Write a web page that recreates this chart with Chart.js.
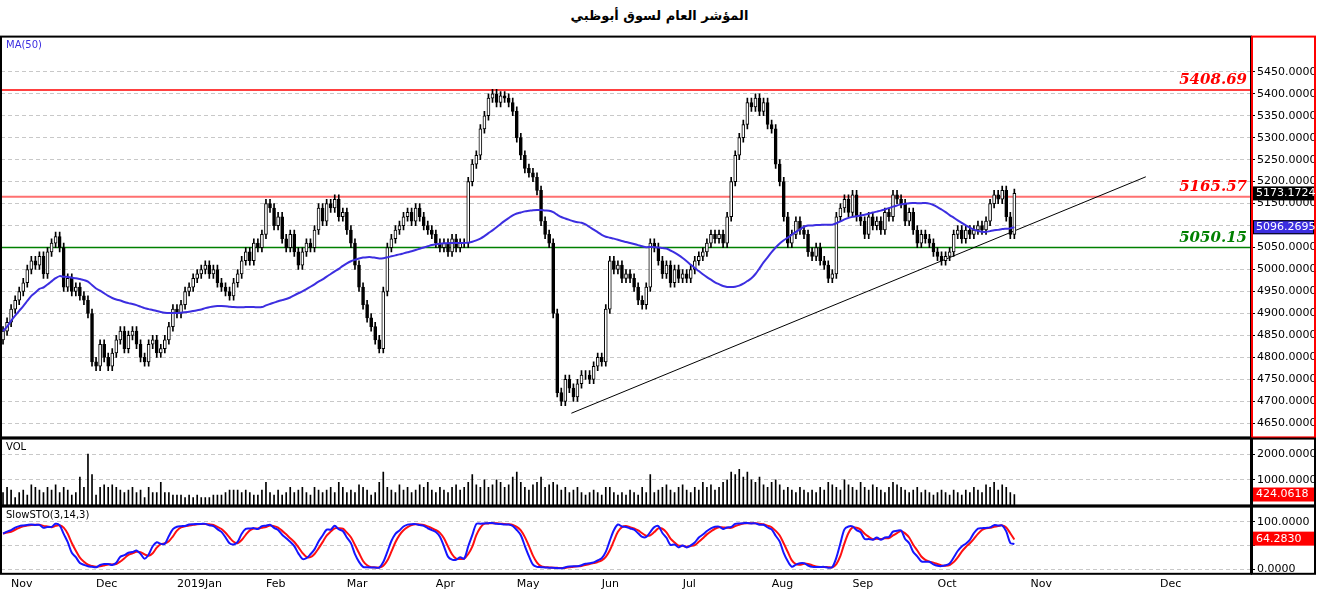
<!DOCTYPE html>
<html>
<head>
<meta charset="utf-8">
<script src="https://cdn.jsdelivr.net/npm/chart.js@4.4.1/dist/chart.umd.min.js"></script>
<style>
  body { margin: 0; background: #fff; width: 1319px; height: 591px; overflow: hidden; font-family: "DejaVu Sans", sans-serif; }
  .title { position: absolute; top: 8px; left: 0; width: 1319px; text-align: center; font: bold 13px "DejaVu Sans", sans-serif; }
  .panel { position: absolute; left: 0; width: 1319px; }
</style>
</head>
<body>
<div class="title" dir="rtl">المؤشر العام لسوق أبوظبي</div>
<div class="panel" style="top:28px;height:418px"><canvas id="main"></canvas></div>
<div class="panel" style="top:430px;height:84px"><canvas id="vol"></canvas></div>
<div class="panel" style="top:498px;height:93px"><canvas id="sto"></canvas></div>
<script>
// daily closes, Oct 2018 - Oct 2019
const closes = [
  4860, 4880, 4910, 4930, 4950,
  4970, 5000, 5020, 5010, 5030, 4990, 5040, 5060, 5075, 5050,
  4960, 4980, 4950, 4960, 4940,
  4930, 4900, 4790,
  4780, 4830, 4800, 4780, 4810, 4840, 4860, 4820, 4850, 4860, 4830, 4800, 4790, 4830, 4840,
  4810, 4820, 4840, 4870, 4910,
  4900, 4920, 4950, 4960, 4980, 4990, 5000, 5010, 4990, 5000,
  4970, 4960, 4950, 4940, 4970, 4990,
  5020, 5040, 5020, 5060, 5050, 5080, 5150,
  5140, 5100, 5120, 5070, 5050, 5080, 5040, 5010, 5040,
  5060, 5050, 5090, 5140, 5110, 5150, 5140, 5160, 5120,
  5130, 5090, 5060, 5010, 4960,
  4920, 4890, 4870, 4840, 4820,
  4950, 5050, 5070,
  5090, 5100, 5120, 5130, 5110, 5140, 5120, 5100, 5090, 5080,
  5060, 5050, 5060, 5040, 5070, 5050, 5060, 5060,
  5200, 5240, 5260, 5320, 5350, 5390, 5400,
  5380, 5395, 5390, 5380, 5360,
  5300, 5260, 5230, 5220, 5210,
  5180, 5110, 5080, 5060,
  4900, 4720, 4700,
  4750, 4730, 4710, 4740, 4760, 4760, 4750, 4780, 4800, 4790,
  4910, 5020, 5000,
  5010, 4980, 4990, 4980, 4960, 4930, 4920, 4960, 5060,
  5050, 5020, 4990, 5010, 4970, 5000, 4980, 4990, 4980, 5000,
  5020, 5030, 5040, 5060, 5080, 5070, 5080, 5060,
  5120, 5200,
  5260, 5300, 5330, 5380, 5370,
  5390, 5360, 5380, 5330, 5320,
  5240, 5200, 5120,
  5060, 5080, 5110, 5090, 5080, 5040,
  5030, 5050, 5020, 5010, 4980,
  4990, 5120,
  5140, 5160, 5130, 5170, 5120, 5110,
  5080, 5120, 5100, 5110, 5090, 5130, 5120,
  5170, 5160, 5150,
  5110, 5130, 5090, 5060, 5080,
  5070, 5060, 5040, 5030, 5020, 5030, 5040,
  5080, 5090, 5070, 5090, 5080, 5090, 5100,
  5090, 5110, 5150, 5170, 5160,
  5180, 5120, 5080, 5173.17
];
const volumes = [
  500,700,600,300,500,600,400,800,700,600,
  500,700,600,800,500,700,600,400,500,1100,
  700,2000,1200,400,700,800,700,800,700,600,
  500,600,700,500,600,300,700,500,500,900,
  500,500,400,400,400,300,400,300,400,300,
  300,300,400,400,400,500,600,600,600,500,
  600,500,400,400,600,900,500,400,600,400,
  500,700,500,600,700,500,400,700,600,500,
  600,700,500,900,700,500,600,500,800,700,
  600,400,500,900,1300,700,600,500,800,600,
  700,500,600,800,700,900,600,500,700,600,
  500,700,800,600,700,900,1200,800,700,1000,
  700,800,1000,900,700,800,1100,1300,900,700,
  600,800,900,1100,700,800,900,800,600,700,
  500,600,700,500,400,500,600,500,400,700,
  700,500,400,500,400,600,500,400,700,500,
  1200,500,600,700,800,600,500,700,800,600,
  500,700,600,900,700,800,600,700,900,1000,
  1300,1200,1400,1100,1300,1000,900,1100,800,700,
  900,1000,800,600,700,600,500,700,600,500,
  600,500,700,600,900,800,700,600,1000,800,
  700,600,900,700,600,800,700,600,500,700,
  900,800,700,600,500,600,700,500,600,500,
  400,500,600,500,400,600,500,400,600,500,
  700,600,500,800,700,900,600,800,700,500,424.0618
];
const monthLabels = ["Nov", "Dec", "2019Jan", "Feb", "Mar", "Apr", "May", "Jun", "Jul", "Aug", "Sep", "Oct", "Nov", "Dec"];
const monthStarts = [2, 23, 43, 65, 85, 107, 127, 148, 168, 190, 210, 231, 254, 286];
const levels = [5408.69, 5165.57, 5050.15];
const levelColors = ["#ff0000", "#ff7070", "#008000"];
const trendPoints = [{ x: 140.5, y: 4673 }, { x: 282.5, y: 5211 }];
const priceTicks = [4650, 4700, 4750, 4800, 4850, 4900, 4950, 5000, 5050, 5100, 5150, 5200, 5250, 5300, 5350, 5400, 5450];

const FONT = "DejaVu Sans";
const AXIS_W = 66;
const X_MIN = -0.5, X_MAX = 308.5;

// derived series
const opens = closes.map((c, i) => (i === 0 ? 4840 : closes[i - 1]));
const highs = closes.map((c, i) => Math.max(c, opens[i]) + 10);
const lows = closes.map((c, i) => Math.min(c, opens[i]) - 10);

const ma50 = closes.map((c, i) => {
  const s = closes.slice(Math.max(0, i - 49), i + 1);
  return s.reduce((a, b) => a + b, 0) / s.length;
});

function sma(arr, n) {
  return arr.map((v, i) => {
    const s = arr.slice(Math.max(0, i - n + 1), i + 1);
    return s.reduce((a, b) => a + b, 0) / s.length;
  });
}
const rawK = closes.map((c, i) => {
  const lo = Math.min(...lows.slice(Math.max(0, i - 13), i + 1));
  const hi = Math.max(...highs.slice(Math.max(0, i - 13), i + 1));
  return hi === lo ? 50 : (100 * (c - lo)) / (hi - lo);
});
const slowK = sma(rawK, 3);
const slowD = sma(slowK, 3);

Chart.defaults.font.family = FONT;
Chart.defaults.font.size = 11;
Chart.defaults.color = "#000";
Chart.defaults.animation = false;

function xScale(showLabels) {
  return {
    type: "linear",
    min: X_MIN,
    max: X_MAX,
    offset: false,
    display: showLabels,
    grid: { display: false, drawTicks: true, tickLength: 4, color: "#000" },
    border: { display: false },
    afterBuildTicks: (s) => { s.ticks = monthStarts.map((v) => ({ value: v })); },
    ticks: {
      autoSkip: false,
      maxRotation: 0,
      align: "start",
      padding: 0,
      font: { size: 11 },
      callback: (v) => monthLabels[monthStarts.indexOf(v)] || "",
    },
  };
}
function yScale(min, max, tickValues, fmt) {
  return {
    position: "right",
    min, max,
    afterFit: (s) => { s.width = AXIS_W; },
    afterBuildTicks: (s) => { s.ticks = tickValues.map((v) => ({ value: v })); },
    grid: { color: "#c8c8c8", drawTicks: true, tickLength: 4, tickColor: "#000" },
    border: { display: false, dash: [4, 3] },
    ticks: { padding: 2, font: { size: 11 }, color: "#000", callback: fmt },
  };
}

// frame + labels plugin
const framePlugin = {
  id: "frame",
  afterDraw(chart, args, opts) {
    const { ctx, chartArea: a } = chart;
    ctx.save();
    ctx.strokeStyle = "#000";
    ctx.lineWidth = 2;
    ctx.strokeRect(a.left, a.top, a.right - a.left, a.bottom - a.top);
    ctx.strokeStyle = opts.axisColor || "#000";
    ctx.strokeRect(a.right + 1, a.top, AXIS_W - 3, a.bottom - a.top);
    ctx.font = "10px " + FONT;
    ctx.fillStyle = opts.nameColor || "#000";
    ctx.textBaseline = "top";
    ctx.fillText(opts.name, a.left + 5, a.top + 4);
    const ys = chart.scales.y;
    (opts.boxes || []).forEach((b) => {
      const y = ys.getPixelForValue(b.value);
      ctx.fillStyle = b.bg;
      ctx.fillRect(a.right + 2, y - 7, AXIS_W - 5, 14);
      if (b.border) { ctx.strokeStyle = b.border; ctx.lineWidth = 1; ctx.strokeRect(a.right + 2.5, y - 6.5, AXIS_W - 6, 13); }
      ctx.fillStyle = "#fff";
      ctx.font = "11px " + FONT;
      ctx.textBaseline = "middle";
      ctx.fillText(b.text, a.right + 5, y);
    });
    (opts.levelLabels || []).forEach((l) => {
      const y = ys.getPixelForValue(l.value);
      ctx.font = "italic bold 15px 'DejaVu Serif', serif";
      ctx.fillStyle = l.color;
      ctx.textAlign = "right";
      ctx.textBaseline = "bottom";
      ctx.fillText(l.text, a.right - 4, y - 2);
      ctx.textAlign = "left";
    });
    ctx.restore();
  },
};

const levelDatasets = levels.map((v, i) => ({
  type: "line",
  data: [{ x: X_MIN, y: v }, { x: X_MAX, y: v }],
  borderColor: levelColors[i],
  borderWidth: i === 1 ? 2 : 1.5,
  pointRadius: 0,
  order: 5,
}));

new Chart(document.getElementById("main"), {
  type: "bar",
  data: {
    datasets: [
      ...levelDatasets,
      {
        type: "line",
        data: trendPoints,
        borderColor: "#000",
        borderWidth: 1,
        pointRadius: 0,
        order: 4,
      },
      {
        type: "bar",
        data: closes.map((c, i) => ({ x: i, y: [lows[i], highs[i]] })),
        backgroundColor: "#000",
        barThickness: 1,
        grouped: false,
        order: 3,
      },
      {
        type: "bar",
        data: closes.map((c, i) => ({ x: i, y: [opens[i], c] })),
        backgroundColor: closes.map((c, i) => (c >= opens[i] ? "#fff" : "#000")),
        borderColor: "#000",
        borderWidth: 1,
        borderSkipped: false,
        barThickness: 3,
        grouped: false,
        order: 2,
      },
      {
        type: "line",
        data: ma50.map((v, i) => ({ x: i, y: v })),
        borderColor: "#3c2ee0",
        borderWidth: 2,
        pointRadius: 0,
        tension: 0.3,
        order: 1,
      },
    ],
  },
  options: {
    responsive: true,
    maintainAspectRatio: false,
    layout: { autoPadding: false, padding: { left: 1, right: 2, top: 1, bottom: 1 } },
    plugins: {
      legend: { display: false },
      tooltip: { enabled: false },
      frame: {
        name: "MA(50)",
        nameColor: "#3c2ee0",
        axisColor: "#ff0000",
        boxes: [
          { value: 5173.1724, text: "5173.1724", bg: "#000" },
          { value: 5096.2695, text: "5096.2695", bg: "#3c2ee0", border: "#000" },
        ],
        levelLabels: [
          { value: levels[0], text: "5408.69", color: "#ff0000" },
          { value: levels[1], text: "5165.57", color: "#ff0000" },
          { value: levels[2], text: "5050.15", color: "#008000" },
        ],
      },
    },
    scales: {
      x: xScale(false),
      y: yScale(4618, 5530, priceTicks, (v) => v.toFixed(4)),
    },
  },
  plugins: [framePlugin],
});

new Chart(document.getElementById("vol"), {
  type: "bar",
  data: {
    datasets: [{
      data: volumes.map((v, i) => ({ x: i, y: v })),
      backgroundColor: "#000",
      barThickness: 1,
    }],
  },
  options: {
    responsive: true,
    maintainAspectRatio: false,
    layout: { autoPadding: false, padding: { left: 1, right: 2, top: 1, bottom: 1 } },
    plugins: {
      legend: { display: false },
      tooltip: { enabled: false },
      frame: { name: "VOL", boxes: [{ value: 424.0618, text: "424.0618", bg: "#ff0000" }] },
    },
    scales: {
      x: xScale(false),
      y: yScale(0, 2600, [1000, 2000], (v) => v.toFixed(4)),
    },
  },
  plugins: [framePlugin],
});

new Chart(document.getElementById("sto"), {
  type: "line",
  data: {
    datasets: [
      { data: slowK.map((v, i) => ({ x: i, y: v })), borderColor: "#1515ff", borderWidth: 2, pointRadius: 0, tension: 0.3 },
      { data: slowD.map((v, i) => ({ x: i, y: v })), borderColor: "#ff1010", borderWidth: 2, pointRadius: 0, tension: 0.3 },
    ],
  },
  options: {
    responsive: true,
    maintainAspectRatio: false,
    layout: { autoPadding: false, padding: { left: 1, right: 2, top: 1, bottom: 0 } },
    plugins: {
      legend: { display: false },
      tooltip: { enabled: false },
      frame: { name: "SlowSTO(3,14,3)", boxes: [{ value: 64.283, text: "64.2830", bg: "#ff0000" }] },
    },
    scales: {
      x: xScale(true),
      y: yScale(-10, 132, [0, 50, 100], (v) => (v === 50 ? "" : v.toFixed(4))),
    },
  },
  plugins: [framePlugin],
});
</script>
</body>
</html>
